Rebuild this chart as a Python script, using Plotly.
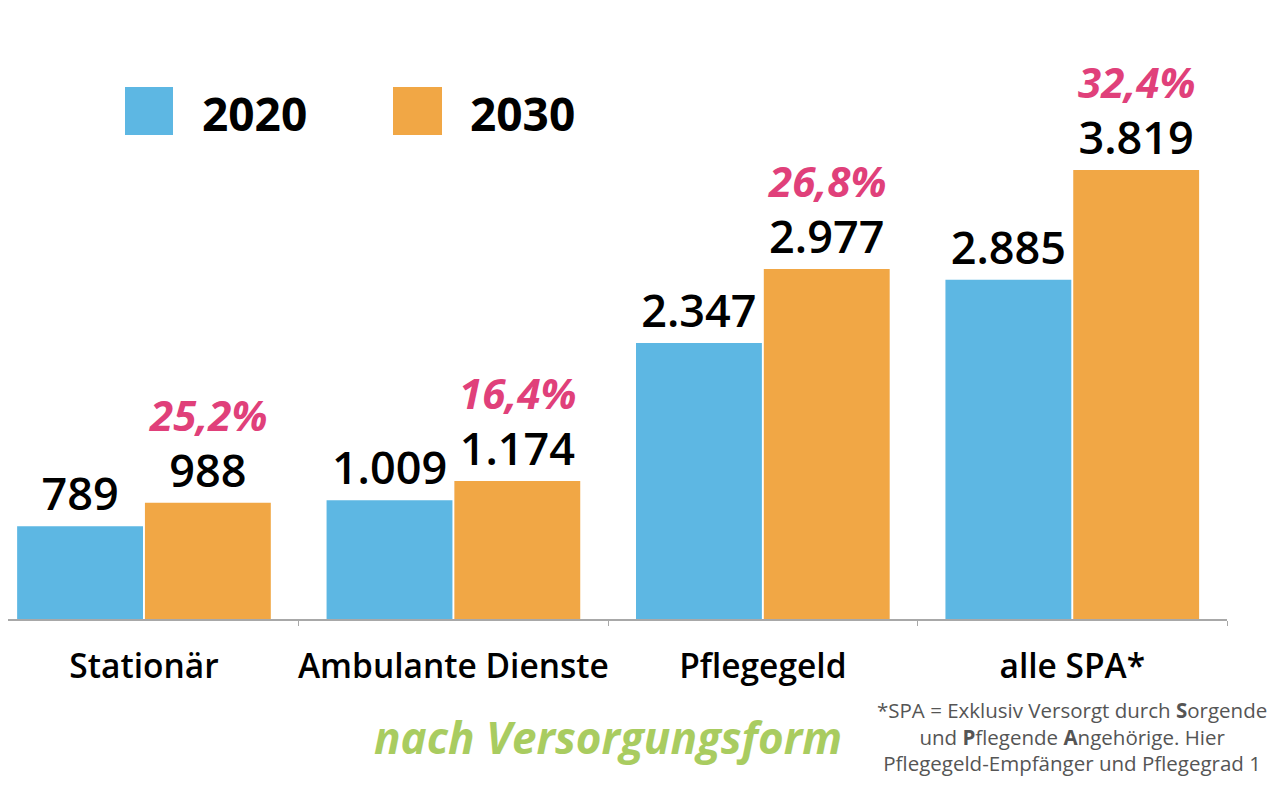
import plotly.graph_objects as go

categories = ["Stationär", "Ambulante Dienste", "Pflegegeld", "alle SPA*"]
values_2020 = [789, 1009, 2347, 2885]
values_2030 = [988, 1174, 2977, 3819]
growth_labels = ["25,2%", "16,4%", "26,8%", "32,4%"]
series_names = ["2020", "2030"]

BLUE = "#5DB7E3"
ORANGE = "#F1A745"
PINK = "#E0407A"
GREEN = "#A9CC60"
FONT = "Open Sans"


def fmt(v):
    return f"{v:,}".replace(",", ".")


fig = go.Figure()
for name, vals, col in [(series_names[0], values_2020, BLUE), (series_names[1], values_2030, ORANGE)]:
    fig.add_trace(go.Bar(
        x=categories, y=vals, name=name, marker=dict(color=col, line=dict(width=0)),
        text=[fmt(v) for v in vals], textposition="outside",
        textfont=dict(family=FONT, size=45, color="#000000", weight=600),
        cliponaxis=False, constraintext="none", showlegend=False,
    ))

# growth labels above 2030 bars
for cat, v, lab in zip(categories, values_2030, growth_labels):
    fig.add_annotation(
        x=cat, y=v, xref="x", yref="y", text=f"<i><b>{lab}</b></i>", showarrow=False,
        xshift=64, yshift=88, yanchor="middle",
        font=dict(family=FONT, size=42, color=PINK),
    )

OFF = 8.0     # page body margin
PW = 1219.0
PH = 611.0


def px(x):
    return (x - OFF) / PW


def py(y):
    return (PH - (y - OFF)) / PH


# legend drawn manually
fig.add_shape(type="rect", xref="paper", yref="paper", x0=px(125), x1=px(173), y0=py(135), y1=py(87),
              fillcolor=BLUE, line=dict(width=0))
fig.add_shape(type="rect", xref="paper", yref="paper", x0=px(393), x1=px(442), y0=py(135), y1=py(87),
              fillcolor=ORANGE, line=dict(width=0))
fig.add_annotation(xref="paper", yref="paper", x=px(200), y=py(113), text=f"<b>{series_names[0]}</b>",
                   showarrow=False, xanchor="left", yanchor="middle",
                   font=dict(family=FONT, size=46, color="#000000"))
fig.add_annotation(xref="paper", yref="paper", x=px(468), y=py(113), text=f"<b>{series_names[1]}</b>",
                   showarrow=False, xanchor="left", yanchor="middle",
                   font=dict(family=FONT, size=46, color="#000000"))

# subtitle
fig.add_annotation(xref="paper", yref="paper", x=px(608), y=py(737), text="<i><b>nach Versorgungsform</b></i>",
                   showarrow=False, xanchor="center", yanchor="middle",
                   font=dict(family=FONT, size=44, color=GREEN))

# footnote
fig.add_annotation(xref="paper", yref="paper", x=px(1072), y=py(736),
                   text="*SPA = Exklusiv Versorgt durch <b>S</b>orgende<br>und <b>P</b>flegende <b>A</b>ngehörige. Hier<br>Pflegegeld-Empfänger und Pflegegrad 1",
                   showarrow=False, xanchor="center", yanchor="middle", align="center",
                   font=dict(family=FONT, size=20.5, color="#555555"))

fig.update_layout(
    width=1272, height=782,
    margin=dict(l=0, r=1272 - 1219, t=0, b=782 - 611, pad=0, autoexpand=False),
    paper_bgcolor="white", plot_bgcolor="white",
    barmode="group", bargap=0.174, bargroupgap=0.015,
    font=dict(family=FONT),
    xaxis=dict(
        type="category", range=[-0.4394, 3.5], tickson="boundaries",
        showline=True, linecolor="#A8A8A8", linewidth=2,
        ticks="outside", ticklen=5, tickcolor="#A8A8A8", tickwidth=1,
        showgrid=False, zeroline=False, automargin=False, tickangle=0,
        tickfont=dict(family=FONT, size=33.5, color="#000000", weight=600),
        ticklabelstandoff=17,
    ),
    yaxis=dict(visible=False, range=[0, 5196], showgrid=False, zeroline=False, automargin=False),
)

fig.write_html("out.html")
